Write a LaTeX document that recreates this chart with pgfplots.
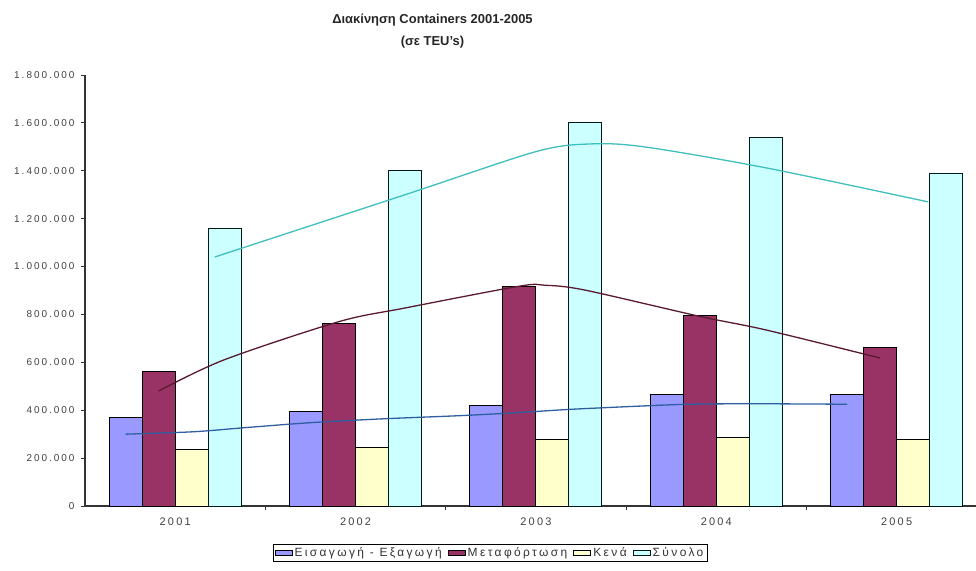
\documentclass[border=0pt]{standalone}
\usepackage{fontspec}
\setmainfont{Liberation Sans}
\newfontfamily\widefont[LetterSpace=20]{Liberation Sans}
\usepackage{pgfplots}
\pgfplotsset{compat=1.18}
\usepackage{pgfplotstable}

\definecolor{impexp}{HTML}{9999FF}
\definecolor{transh}{HTML}{993366}
\definecolor{emptyc}{HTML}{FFFFCC}
\definecolor{total}{HTML}{CCFFFF}
\definecolor{trblue}{HTML}{2F5F9F}
\definecolor{trred}{HTML}{5A1A30}
\definecolor{trcyan}{HTML}{40BFBF}

% TEU per year (2001..2005 -> 0..4)
\pgfplotstableread{
x impexp transh empty total
0 369000 560000 238000 1161000
1 394000 764000 246000 1403000
2 418000 915000 276000 1601000
3 464000 794000 285000 1538000
4 464000 660000 276000 1390000
}\teus

% trend lines
\pgfplotstableread{
x y
-0.275 300000
0.1 310000
0.4 328000
0.75 348000
1.15 364000
1.6 378000
1.9 390000
2.2 404000
2.6 418000
2.85 425000
3.2 427000
3.725 425000
}\trendA
\pgfplotstableread{
x y
-0.092 480000
0.27 610000
0.908 770000
1.275 827000
1.908 918000
2.05 922000
2.27 902000
2.908 792000
3.277 735000
3.908 618000
}\trendB
\pgfplotstableread{
x y
0.22 1040000
1.275 1300000
2.0 1480000
2.3 1512000
2.6 1500000
3.277 1412000
4.175 1270000
}\trendC

\begin{document}
\begin{tikzpicture}
\begin{axis}[
    width=891bp, height=431bp, scale only axis,
    xmin=-0.5, xmax=4.44, ymin=0, ymax=1800000,
    axis lines=left, axis line style={-, line width=1.1bp, black!80},
    xtick={0.5,1.5,2.5,3.5}, xticklabels={},
    extra x ticks={0,1,2,3,4},
    extra x tick labels={2001,2002,2003,2004,2005},
    extra x tick style={major tick length=0pt},
    xticklabel style={yshift=-8bp, font=\widefont\fontsize{11}{12}\selectfont},
    ytick distance=200000,
    tick align=outside, major tick length=4bp,
    tick style={black!80, line width=0.8bp},
    scaled y ticks=false,
    yticklabel style={font=\widefont\fontsize{10}{12}\selectfont, xshift=-3bp,
        /pgf/number format/fixed, /pgf/number format/1000 sep={.},
        /pgf/number format/assume math mode=true},
    ticklabel style={text=black!75},
    title={Διακίνηση Containers 2001-2005\\(σε TEU's)},
    title style={at={(0.39,1.04)}, anchor=south, align=center,
        font=\bfseries\fontsize{13}{22}\selectfont, text=black!85},
    legend style={at={(0.4545,-0.109)}, anchor=center, legend columns=4,
        draw=black, line width=0.8bp, inner sep=1.5bp,
        font=\widefont\fontsize{12}{14}\selectfont, text=black!80,
        /tikz/every even column/.append style={column sep=4bp}},
    area legend,
]
\addplot[ybar, bar width=0.183, bar shift=-0.2745, fill=impexp, draw=black, line width=1bp]
    table[x=x, y=impexp]{\teus};
\addplot[ybar, bar width=0.183, bar shift=-0.0915, fill=transh, draw=black, line width=1bp]
    table[x=x, y=transh]{\teus};
\addplot[ybar, bar width=0.183, bar shift=0.0915, fill=emptyc, draw=black, line width=1bp]
    table[x=x, y=empty]{\teus};
\addplot[ybar, bar width=0.183, bar shift=0.2745, fill=total, draw=black!80!teal, line width=1bp]
    table[x=x, y=total]{\teus};
\legend{Εισαγωγή - Εξαγωγή, Μεταφόρτωση, Κενά, Σύνολο}

\addplot[trblue, line width=1.3bp, smooth, forget plot] table[x=x, y=y]{\trendA};
\addplot[trred, line width=1.3bp, smooth, forget plot] table[x=x, y=y]{\trendB};
\addplot[trcyan, line width=1.3bp, smooth, forget plot] table[x=x, y=y]{\trendC};
\end{axis}
\pgfresetboundingbox
\path[use as bounding box] (-85bp,-65bp) rectangle (891bp,506bp);
\end{tikzpicture}
\end{document}
